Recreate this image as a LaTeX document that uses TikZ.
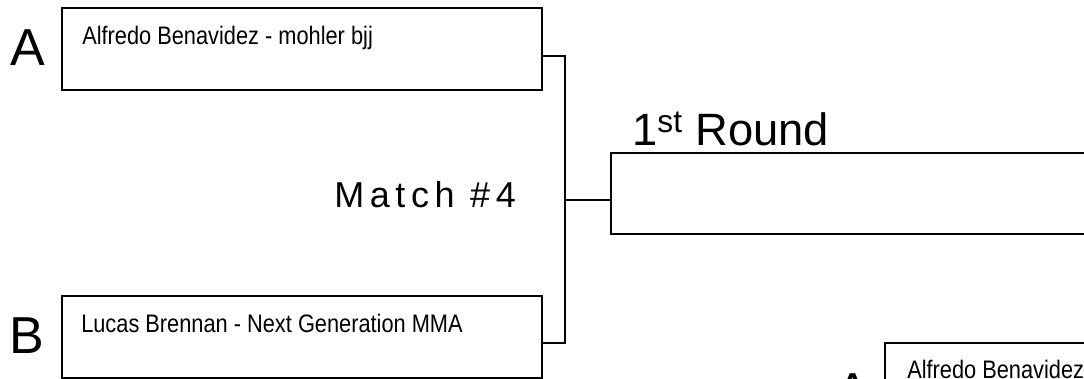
\documentclass[tikz,border=0pt]{standalone}
\usepackage{fontspec}
\setmainfont{Liberation Sans}
\newfontfamily\narrowfont[FakeStretch=0.86]{Liberation Sans}
\newfontfamily\spacedfont[LetterSpace=15.5]{Liberation Sans}
\begin{document}
\begin{tikzpicture}[x=0.75pt,y=-0.75pt,
  entry/.style={draw,line width=1.5pt,anchor=north west,inner sep=0pt},
  conn/.style={line width=1.5pt},
  nametext/.style={anchor=base west,inner sep=0pt,font=\narrowfont\fontsize{19}{22}\selectfont},
  bigletter/.style={anchor=base west,inner sep=0pt,font=\fontsize{39}{44}\selectfont},
  lbl/.style={anchor=base west,inner sep=0pt}]
\useasboundingbox (0,0) rectangle (1084,378);
\begin{scope}
\clip (0,0) rectangle (1084,378);
% boxes
\node[entry,minimum width=480*0.75pt,minimum height=82*0.75pt] (boxA) at (61,7) {};
\node[entry,minimum width=480*0.75pt,minimum height=82*0.75pt] (boxB) at (61,295) {};
\node[entry,minimum width=500*0.75pt,minimum height=81*0.75pt] (boxR) at (610,152) {};
\node[entry,minimum width=220*0.75pt,minimum height=82*0.75pt] (boxA2) at (884,342) {};
% letters
\node[bigletter] (lA) at (10,65) {A};
\node[bigletter] (lB) at (9,353) {B};
\node[bigletter] (lA2) at (835,409) {A};
% names
\node[nametext] (nA) at (82,45) {Alfredo Benavidez - mohler bjj};
\node[nametext] (nB) at (81,332) {Lucas Brennan - Next Generation MMA};
\node[nametext] (nA2) at (907,378) {Alfredo Benavidez};
% labels
\node[lbl,font=\spacedfont\fontsize{27}{30}\selectfont] (match) at (334,207) {Match \#4};
\node[lbl,font=\fontsize{34}{38}\selectfont] (round) at (632,145) {1\textsuperscript{st} Round};
% connectors
\coordinate (jA) at (565,56);
\coordinate (jB) at (565,343);
\coordinate (jM) at (565,200);
\draw[conn] (boxA.east |- jA) -- (jA) -- (jB) -- (boxB.east |- jB);
\draw[conn] (jM) -- (boxR.west |- jM);
\end{scope}
\end{tikzpicture}
\end{document}
